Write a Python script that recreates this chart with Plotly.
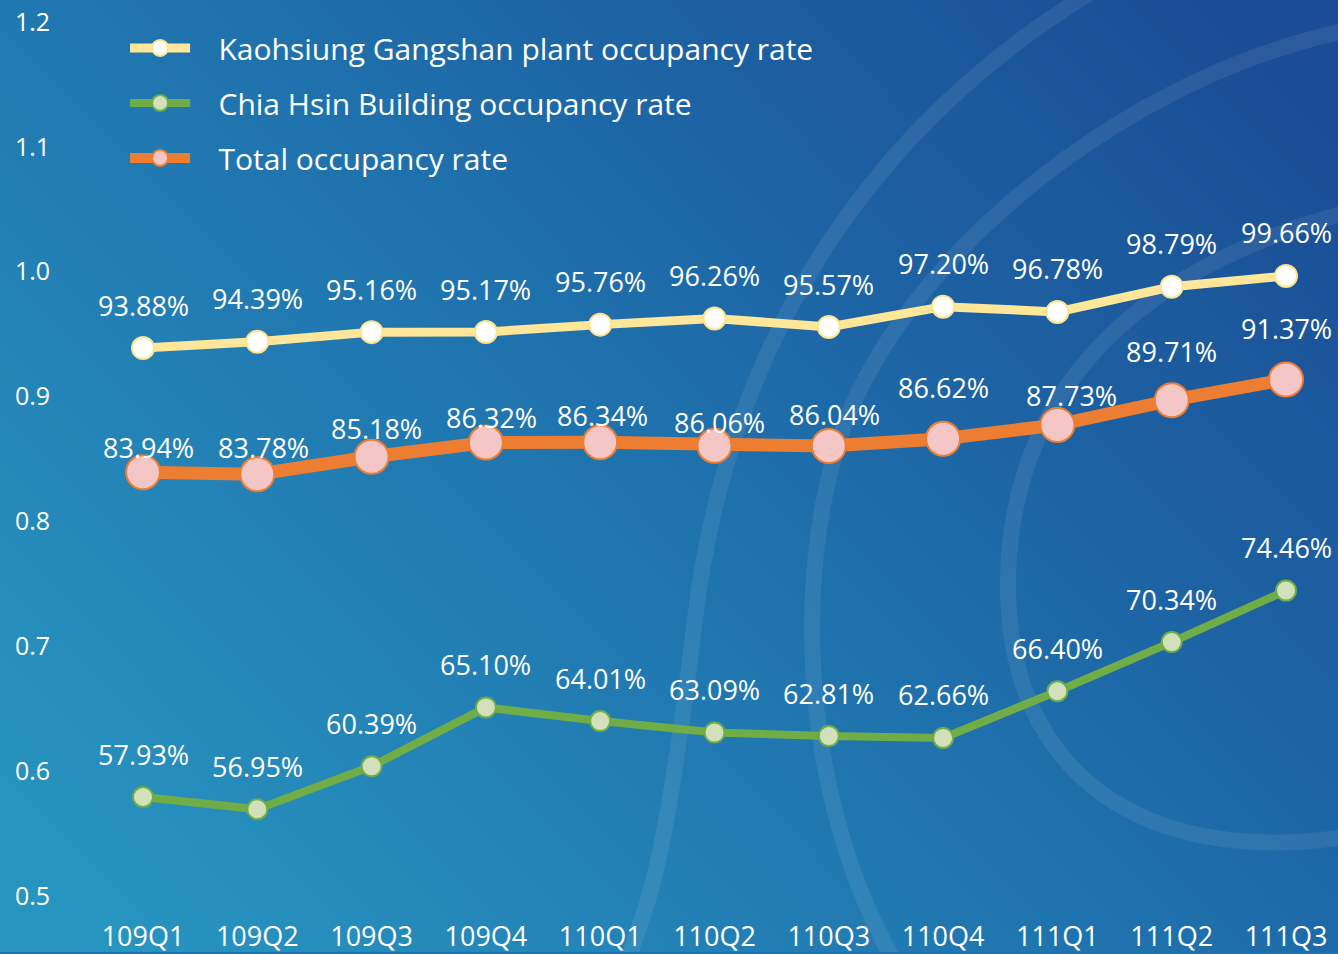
import base64
import plotly.graph_objects as go

quarters = ["109Q1", "109Q2", "109Q3", "109Q4", "110Q1", "110Q2", "110Q3", "110Q4", "111Q1", "111Q2", "111Q3"]
kaohsiung = [93.88, 94.39, 95.16, 95.17, 95.76, 96.26, 95.57, 97.20, 96.78, 98.79, 99.66]
chiahsin = [57.93, 56.95, 60.39, 65.10, 64.01, 63.09, 62.81, 62.66, 66.40, 70.34, 74.46]
total = [83.94, 83.78, 85.18, 86.32, 86.34, 86.06, 86.04, 86.62, 87.73, 89.71, 91.37]
y_ticks = [0.5, 0.6, 0.7, 0.8, 0.9, 1.0, 1.1, 1.2]

# label placement styling (pixels)
total_label_dy = [25, 27, 28, 25, 27, 23, 32, 51, 29, 49, 51]
total_label_dx = [5, 6, 5, 6, 2, 5, 6, 0, 14, 0, 0]

W, H = 1338, 954
FONT = "Open Sans"

svg = f'''<svg xmlns="http://www.w3.org/2000/svg" width="{W}" height="{H}" viewBox="0 0 {W} {H}" preserveAspectRatio="none">
<defs><linearGradient id="g" x1="0" y1="0.85" x2="1" y2="0.15">
<stop offset="0" stop-color="#2894c0"/><stop offset="0.5" stop-color="#1f72ad"/><stop offset="1" stop-color="#1a4d95"/>
</linearGradient></defs>
<rect x="0" y="0" width="{W}" height="{H}" fill="url(#g)"/>
<g fill="none" stroke="#ffffff" stroke-opacity="0.08" stroke-width="16" stroke-linecap="round">
<path d="M 1095 -10 C 880 120, 730 330, 695 620 S 645 900, 628 965"/>
<path d="M 1350 30 C 1150 70, 950 220, 865 380 C 790 520, 790 780, 895 965"/>
<path d="M 1350 212 C 1150 265, 1012 380, 1008 580 C 1005 780, 1150 870, 1350 838"/>
</g></svg>'''
uri = "data:image/svg+xml;base64," + base64.b64encode(svg.encode()).decode()

fig = go.Figure()

def frac(v):
    return [x / 100 for x in v]

fig.add_trace(go.Scatter(
    x=quarters, y=frac(kaohsiung), name="\u00a0\u00a0\u00a0Kaohsiung Gangshan plant occupancy rate",
    mode="lines+markers", legendgroup="a",
    line=dict(color="#FFE699", width=9),
    marker=dict(size=22, color="#FFFFFF", line=dict(color="#FFE38C", width=2)),
))
fig.add_trace(go.Scatter(
    x=quarters, y=frac(chiahsin), name="\u00a0\u00a0\u00a0Chia Hsin Building occupancy rate",
    mode="lines+markers", legendgroup="b",
    line=dict(color="#70AD47", width=8),
    marker=dict(size=20, color="#D3E0BC", line=dict(color="#70AD47", width=2)),
))
fig.add_trace(go.Scatter(
    x=quarters, y=frac(total), name="\u00a0\u00a0\u00a0Total occupancy rate",
    mode="lines+markers", legendgroup="c",
    line=dict(color="#ED7D31", width=13),
    marker=dict(size=34, color="#F4C6C6", line=dict(color="#ED7D31", width=2)),
))

LBL = dict(size=27, color="white", family=FONT)
annotations = []
for i, q in enumerate(quarters):
    annotations.append(dict(x=q, y=kaohsiung[i] / 100, text=f"{kaohsiung[i]:.2f}%",
                            showarrow=False, yshift=43, font=LBL))
    annotations.append(dict(x=q, y=chiahsin[i] / 100, text=f"{chiahsin[i]:.2f}%",
                            showarrow=False, yshift=43, font=LBL))
    annotations.append(dict(x=q, y=total[i] / 100, text=f"{total[i]:.2f}%",
                            showarrow=False, yshift=total_label_dy[i], xshift=total_label_dx[i],
                            font=LBL))

plot_h = H - 40
px_per_unit = (898 - 22) / 0.7
y_top = 1.2 + 22 / px_per_unit
y_bot = 0.5 - (plot_h - 898) / px_per_unit
x_scale = (1286 - 143) / 10
x_lo = -143 / x_scale
x_hi = x_lo + W / x_scale

fig.update_layout(
    width=W, height=H,
    margin=dict(l=0, r=0, t=0, b=40),
    paper_bgcolor="#1f72ad", plot_bgcolor="rgba(0,0,0,0)",
    font=dict(family=FONT, color="white"),
    images=[dict(source=uri, xref="paper", yref="paper", x=0, y=1, sizex=1, sizey=H / plot_h,
                 xanchor="left", yanchor="top", sizing="stretch", layer="below")],
    xaxis=dict(type="category", range=[x_lo, x_hi], showgrid=False, zeroline=False, showline=False,
               ticks="", ticklabelstandoff=6, tickfont=dict(size=27, color="white", family=FONT)),
    yaxis=dict(range=[y_bot, y_top], tickvals=y_ticks, tickformat=".1f", showgrid=False, zeroline=False,
               showline=False, ticks="", ticklabelposition="inside", ticklabelstandoff=12,
               tickfont=dict(size=25, color="white", family=FONT)),
    legend=dict(x=0.0935, y=0.976, xanchor="left", yanchor="top", bgcolor="rgba(0,0,0,0)",
                font=dict(size=30, color="white", family=FONT), tracegroupgap=13, itemwidth=60),
    annotations=annotations,
    showlegend=True,
)

fig.write_html("out.html", config={"displayModeBar": False},
               post_script="document.body.style.margin='0px';document.body.style.overflow='hidden';")
